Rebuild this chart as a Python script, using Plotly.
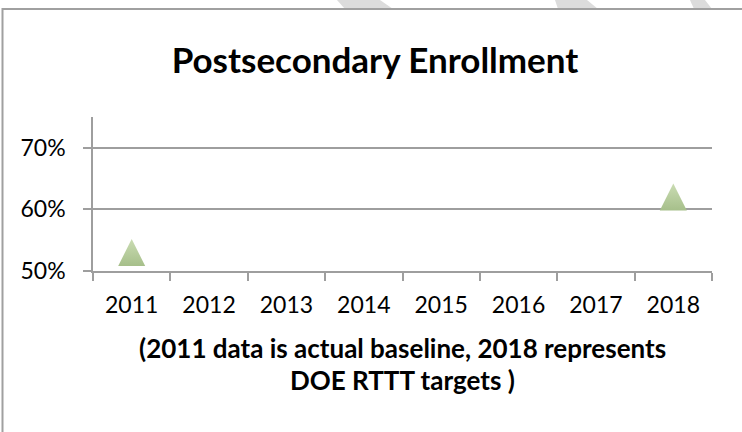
import plotly.graph_objects as go

# ---- data ----
years = ["2011", "2012", "2013", "2014", "2015", "2016", "2017", "2018"]
enrollment = [0.53, None, None, None, None, None, None, 0.62]
y_ticks = [0.5, 0.6, 0.7]
y_tick_labels = ["50%", "60%", "70%"]

title_text = "Postsecondary Enrollment"
x_title_lines = ["(2011 data is actual baseline, 2018 represents", "DOE RTTT targets )"]

# ---- layout geometry (pixels) ----
W, H = 742, 432
L, R, T, B = 93, 30, 117, 161
PW, PH = W - L - R, H - T - B


def fx(px):
    return (px - L) / PW


def fy(py):
    return 1 - (py - T) / PH


FONT = "Lato"
GRID = "#9e9e9e"

fig = go.Figure()
fig.add_trace(go.Scatter(
    x=years, y=enrollment, mode="markers",
    marker=dict(symbol="arrow-down", angle=180, standoff=13.5, size=27,
                color="#cadcb3",
                gradient=dict(type="vertical", color="#a6bf8a"),
                line=dict(width=0)),
    hoverinfo="skip", showlegend=False,
))

shapes = []
# watermark bands at top
for pts in [[(337, 0), (380, 0), (393, 9), (345, 9)],
            [(555, 0), (587, 0), (598, 9), (558, 9)],
            [(690, 0), (705, 0), (712, 9), (694, 9)]]:
    path = "M " + " L ".join(f"{fx(x)},{fy(y)}" for x, y in pts) + " Z"
    shapes.append(dict(type="path", xref="paper", yref="paper", path=path,
                       fillcolor="#dcdcdc", line=dict(width=0), layer="below"))
# chart border
shapes.append(dict(type="rect", xref="paper", yref="paper",
                   x0=fx(2.5), x1=fx(745), y0=fy(440), y1=fy(9),
                   line=dict(color="#a0a0a0", width=2), fillcolor="rgba(0,0,0,0)"))

annotations = []
for i, line in enumerate(x_title_lines):
    annotations.append(dict(text="<b>" + line + "</b>", xref="paper", yref="paper",
                            x=0.5, y=fy(348 + 32 * i), xanchor="center", yanchor="middle",
                            showarrow=False, align="center",
                            font=dict(family=FONT, size=26, color="black")))

fig.update_layout(
    width=W, height=H,
    margin=dict(l=L, r=R, t=T, b=B),
    paper_bgcolor="white", plot_bgcolor="white",
    font=dict(family=FONT, color="black"),
    title=dict(text="<b>" + title_text + "</b>", font=dict(family=FONT, size=35, color="black"),
               x=fx(375), xref="paper", xanchor="center",
               y=1 - 61 / H, yref="container", yanchor="middle"),
    xaxis=dict(type="category", categoryorder="array", categoryarray=years,
               range=[-0.5, len(years) - 0.5],
               showline=True, linecolor=GRID, linewidth=1.5,
               ticks="outside", ticklen=8, tickcolor=GRID, tickwidth=1.5,
               tickson="boundaries", showgrid=False,
               tickfont=dict(family=FONT, size=23, color="black"),
               ticklabelstandoff=13, zeroline=False, fixedrange=True),
    yaxis=dict(range=[0.5, 0.75], tickvals=y_ticks, ticktext=y_tick_labels,
               showline=True, linecolor=GRID, linewidth=1.5,
               ticks="outside", ticklen=8, tickcolor=GRID, tickwidth=1.5,
               showgrid=True, gridcolor=GRID, gridwidth=1.5,
               tickfont=dict(family=FONT, size=23, color="black"),
               ticklabelstandoff=13, zeroline=False, fixedrange=True),
    shapes=shapes,
    annotations=annotations,
)

fig.write_html("out.html", config={"displayModeBar": False},
               post_script="document.body.style.margin='0';")
